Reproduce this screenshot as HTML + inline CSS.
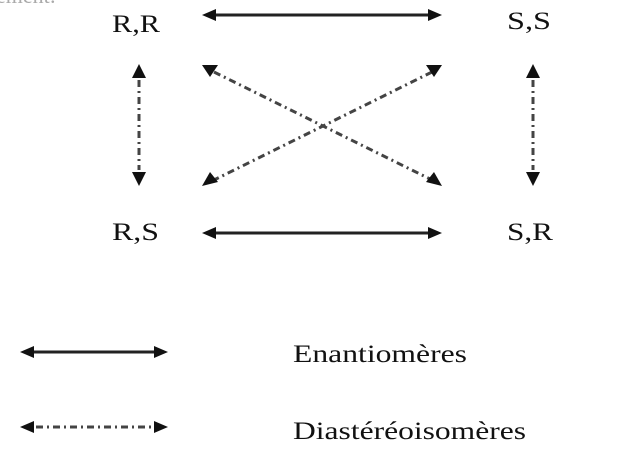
<!DOCTYPE html>
<html><head><meta charset="utf-8"><style>
html,body{margin:0;padding:0;background:#fff;width:638px;height:464px;overflow:hidden}
text{font-family:"Liberation Serif",serif;fill:#111}
</style></head><body>
<svg width="638" height="464" viewBox="0 0 638 464" xmlns="http://www.w3.org/2000/svg">
<text x="-4" y="3" font-size="22" style="fill:#aaa">ement:</text>
<text x="112" y="32" font-size="25" textLength="48" lengthAdjust="spacingAndGlyphs">R,R</text>
<text x="507" y="29" font-size="25" textLength="44" lengthAdjust="spacingAndGlyphs">S,S</text>
<text x="112" y="240" font-size="25" textLength="47" lengthAdjust="spacingAndGlyphs">R,S</text>
<text x="507" y="240" font-size="25" textLength="46" lengthAdjust="spacingAndGlyphs">S,R</text>
<text x="293" y="362" font-size="25" textLength="174" lengthAdjust="spacingAndGlyphs">Enantiomères</text>
<text x="293" y="439" font-size="25" textLength="233" lengthAdjust="spacingAndGlyphs">Diastéréoisomères</text>
<g stroke="#222" stroke-width="3" fill="none">
<line x1="212" y1="15" x2="430" y2="15"/>
<line x1="212" y1="233" x2="430" y2="233"/>
<line x1="30" y1="352" x2="158" y2="352"/>
</g>
<g stroke="#444" stroke-width="3" fill="none" stroke-dasharray="7,4,2,4">
<line x1="139" y1="80" x2="139" y2="170"/>
<line x1="533" y1="80" x2="533" y2="170"/>
<line x1="214" y1="72" x2="432" y2="180"/>
<line x1="432" y1="72" x2="214" y2="180"/>
<line x1="36" y1="427" x2="154" y2="427"/>
</g>
<g fill="#111">
<polygon points="202,15 216,9 216,21"/>
<polygon points="442,15 428,9 428,21"/>
<polygon points="202,233 216,227 216,239"/>
<polygon points="442,233 428,227 428,239"/>
<polygon points="20,352 34,346 34,358"/>
<polygon points="168,352 154,346 154,358"/>
<polygon points="20,427 34,421 34,433"/>
<polygon points="168,427 154,421 154,433"/>
<polygon points="139,64 132,78 146,78"/>
<polygon points="139,186 132,172 146,172"/>
<polygon points="533,64 526,78 540,78"/>
<polygon points="533,186 526,172 540,172"/>
<polygon points="202,65 218,65 210,77"/>
<polygon points="426,65 442,65 434,77"/>
<polygon points="202,186 210,172 218,182"/>
<polygon points="442,186 426,182 434,172"/>
</g>
</svg>
</body></html>
